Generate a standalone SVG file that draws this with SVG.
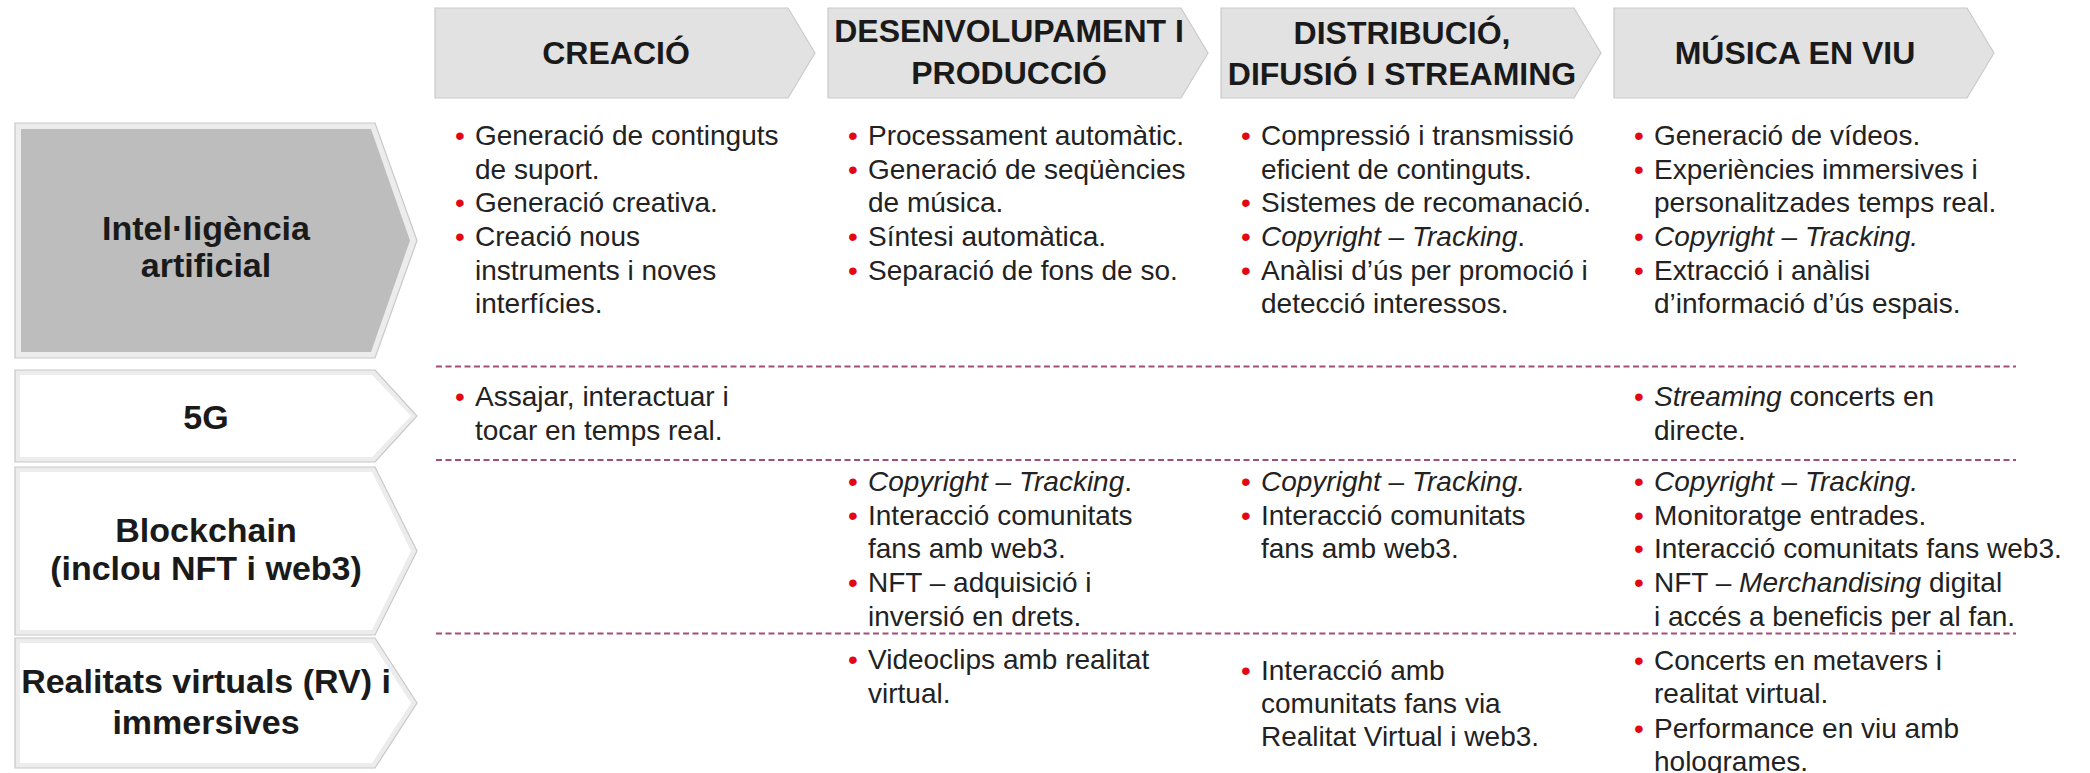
<svg xmlns="http://www.w3.org/2000/svg" width="2090" height="773" viewBox="0 0 2090 773">
<style>
.hdr{fill:#e2e2e2;stroke:#cacaca;stroke-width:1.2}
.band{fill:#ececec;stroke:#c8c8c8;stroke-width:1.2}
.h{font-family:"Liberation Sans",Arial,sans-serif;font-weight:bold;font-size:32px;fill:#1a1a1a;text-anchor:middle}
.r{font-family:"Liberation Sans",Arial,sans-serif;font-weight:bold;font-size:34px;fill:#1a1a1a;text-anchor:middle}
.t{font-family:"Liberation Sans",Arial,sans-serif;font-size:28px;fill:#222222}
.b{font-family:"Liberation Sans",Arial,sans-serif;font-size:28px;fill:#e30613;text-anchor:middle}
.i{font-style:italic}
.sep{stroke:#a34e78;stroke-width:2;stroke-dasharray:6,3.5;fill:none}
</style>
<rect width="2090" height="773" fill="#ffffff"/>

<g id="header-creacio">
<polygon class="hdr" points="435,8 788,8 815,53 788,98 435,98"/>
<text class="h" x="616" y="64">CREACIÓ</text>
</g>
<g id="header-desenvolupament">
<polygon class="hdr" points="828,8 1181,8 1208,53 1181,98 828,98"/>
<text class="h" x="1009" y="42">DESENVOLUPAMENT I</text>
<text class="h" x="1009" y="84">PRODUCCIÓ</text>
</g>
<g id="header-distribucio">
<polygon class="hdr" points="1221,8 1574,8 1601,53 1574,98 1221,98"/>
<text class="h" x="1402" y="44">DISTRIBUCIÓ,</text>
<text class="h" x="1402" y="85">DIFUSIÓ I STREAMING</text>
</g>
<g id="header-musica">
<polygon class="hdr" points="1614,8 1967,8 1994,53 1967,98 1614,98"/>
<text class="h" x="1795" y="64">MÚSICA EN VIU</text>
</g>

<g id="row-ia">
<polygon class="band" points="15,123 375,123 417,240.5 375,358 15,358"/>
<polygon points="21,129 371,129 410,240.5 371,352 21,352" fill="#bdbdbd"/>
<text class="r" x="206" y="240">Intel·ligència</text>
<text class="r" x="206" y="277">artificial</text>
</g>
<g id="row-5g">
<polygon class="band" points="15,370 375,370 417,416 375,462 15,462"/>
<polygon points="20,375 372,375 411,416 372,457 20,457" fill="#ffffff"/>
<text class="r" x="206" y="429">5G</text>
</g>
<g id="row-blockchain">
<polygon class="band" points="15,467 375,467 417,551 375,635 15,635"/>
<polygon points="20,472 372,472 411,551 372,630 20,630" fill="#ffffff"/>
<text class="r" x="206" y="542">Blockchain</text>
<text class="r" x="206" y="580">(inclou NFT i web3)</text>
</g>
<g id="row-rv">
<polygon class="band" points="15,638 375,638 417,703 375,768 15,768"/>
<polygon points="20,643 372,643 411,703 372,763 20,763" fill="#ffffff"/>
<text class="r" x="206" y="693">Realitats virtuals (RV) i</text>
<text class="r" x="206" y="734">immersives</text>
</g>

<g id="connectors">
<line class="sep" x1="436" y1="366.5" x2="2016" y2="366.5"/>
<line class="sep" x1="436" y1="460" x2="2016" y2="460"/>
<line class="sep" x1="436" y1="633.5" x2="2016" y2="633.5"/>
</g>

<g id="cell-ia-creacio">
<text class="b" x="460" y="145">•</text><text class="t" x="475" y="145">Generació de continguts</text>
<text class="t" x="475" y="179">de suport.</text>
<text class="b" x="460" y="212">•</text><text class="t" x="475" y="212">Generació creativa.</text>
<text class="b" x="460" y="246">•</text><text class="t" x="475" y="246">Creació nous</text>
<text class="t" x="475" y="280">instruments i noves</text>
<text class="t" x="475" y="313">interfícies.</text>
</g>
<g id="cell-ia-desenvolupament">
<text class="b" x="853" y="145">•</text><text class="t" x="868" y="145">Processament automàtic.</text>
<text class="b" x="853" y="179">•</text><text class="t" x="868" y="179">Generació de seqüències</text>
<text class="t" x="868" y="212">de música.</text>
<text class="b" x="853" y="246">•</text><text class="t" x="868" y="246">Síntesi automàtica.</text>
<text class="b" x="853" y="280">•</text><text class="t" x="868" y="280">Separació de fons de so.</text>
</g>
<g id="cell-ia-distribucio">
<text class="b" x="1246" y="145">•</text><text class="t" x="1261" y="145">Compressió i transmissió</text>
<text class="t" x="1261" y="179">eficient de continguts.</text>
<text class="b" x="1246" y="212">•</text><text class="t" x="1261" y="212">Sistemes de recomanació.</text>
<text class="b" x="1246" y="246">•</text><text class="t" x="1261" y="246"><tspan class="i">Copyright – Tracking</tspan>.</text>
<text class="b" x="1246" y="280">•</text><text class="t" x="1261" y="280">Anàlisi d’ús per promoció i</text>
<text class="t" x="1261" y="313">detecció interessos.</text>
</g>
<g id="cell-ia-musica">
<text class="b" x="1639" y="145">•</text><text class="t" x="1654" y="145">Generació de vídeos.</text>
<text class="b" x="1639" y="179">•</text><text class="t" x="1654" y="179">Experiències immersives i</text>
<text class="t" x="1654" y="212">personalitzades temps real.</text>
<text class="b" x="1639" y="246">•</text><text class="t" x="1654" y="246"><tspan class="i">Copyright – Tracking.</tspan></text>
<text class="b" x="1639" y="280">•</text><text class="t" x="1654" y="280">Extracció i anàlisi</text>
<text class="t" x="1654" y="313">d’informació d’ús espais.</text>
</g>

<g id="cell-5g-creacio">
<text class="b" x="460" y="406">•</text><text class="t" x="475" y="406">Assajar, interactuar i</text>
<text class="t" x="475" y="440">tocar en temps real.</text>
</g>
<g id="cell-5g-musica">
<text class="b" x="1639" y="406">•</text><text class="t" x="1654" y="406"><tspan class="i">Streaming</tspan> concerts en</text>
<text class="t" x="1654" y="440">directe.</text>
</g>

<g id="cell-bc-desenvolupament">
<text class="b" x="853" y="491">•</text><text class="t" x="868" y="491"><tspan class="i">Copyright – Tracking</tspan>.</text>
<text class="b" x="853" y="525">•</text><text class="t" x="868" y="525">Interacció comunitats</text>
<text class="t" x="868" y="558">fans amb web3.</text>
<text class="b" x="853" y="592">•</text><text class="t" x="868" y="592">NFT – adquisició i</text>
<text class="t" x="868" y="626">inversió en drets.</text>
</g>
<g id="cell-bc-distribucio">
<text class="b" x="1246" y="491">•</text><text class="t" x="1261" y="491"><tspan class="i">Copyright – Tracking.</tspan></text>
<text class="b" x="1246" y="525">•</text><text class="t" x="1261" y="525">Interacció comunitats</text>
<text class="t" x="1261" y="558">fans amb web3.</text>
</g>
<g id="cell-bc-musica">
<text class="b" x="1639" y="491">•</text><text class="t" x="1654" y="491"><tspan class="i">Copyright – Tracking.</tspan></text>
<text class="b" x="1639" y="525">•</text><text class="t" x="1654" y="525">Monitoratge entrades.</text>
<text class="b" x="1639" y="558">•</text><text class="t" x="1654" y="558">Interacció comunitats fans web3.</text>
<text class="b" x="1639" y="592">•</text><text class="t" x="1654" y="592">NFT – <tspan class="i">Merchandising</tspan> digital</text>
<text class="t" x="1654" y="626">i accés a beneficis per al fan.</text>
</g>

<g id="cell-rv-desenvolupament">
<text class="b" x="853" y="669">•</text><text class="t" x="868" y="669">Videoclips amb realitat</text>
<text class="t" x="868" y="703">virtual.</text>
</g>
<g id="cell-rv-distribucio">
<text class="b" x="1246" y="680">•</text><text class="t" x="1261" y="680">Interacció amb</text>
<text class="t" x="1261" y="713">comunitats fans via</text>
<text class="t" x="1261" y="746">Realitat Virtual i web3.</text>
</g>
<g id="cell-rv-musica">
<text class="b" x="1639" y="670">•</text><text class="t" x="1654" y="670">Concerts en metavers i</text>
<text class="t" x="1654" y="703">realitat virtual.</text>
<text class="b" x="1639" y="738">•</text><text class="t" x="1654" y="738">Performance en viu amb</text>
<text class="t" x="1654" y="771">hologrames.</text>
</g>
</svg>
